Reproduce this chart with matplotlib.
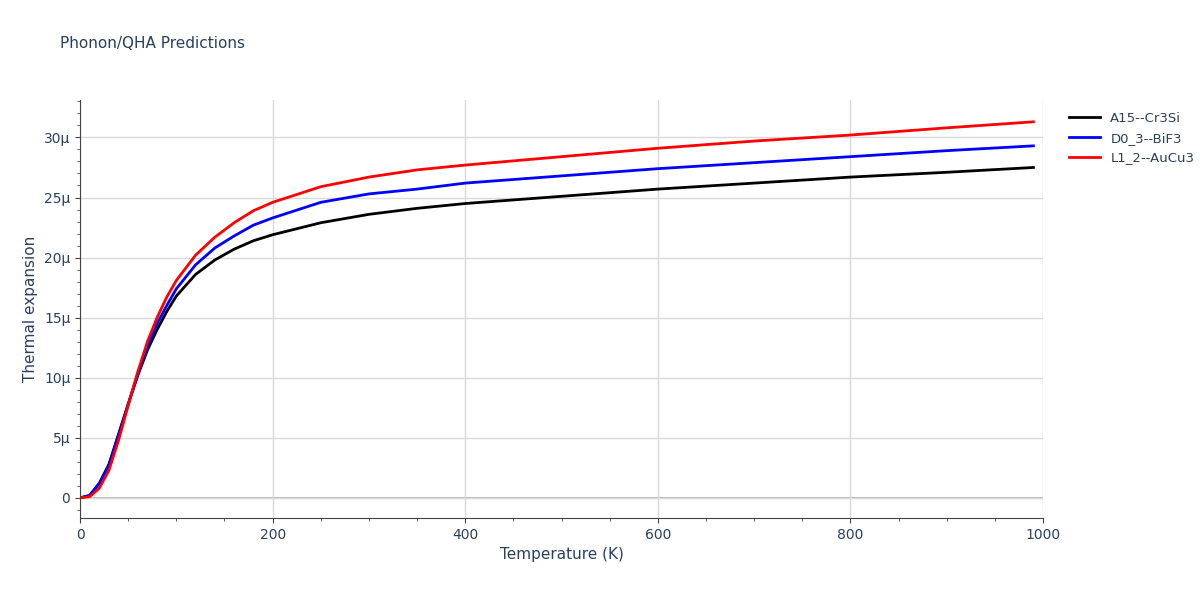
import numpy as np
import matplotlib.pyplot as plt
from matplotlib.ticker import FuncFormatter, MultipleLocator

temp = [0, 10, 20, 30, 40, 50, 60, 70, 80, 90, 100, 120, 140, 160, 180, 200,
        250, 300, 350, 400, 500, 600, 700, 800, 900, 990]
a15 = [0, 0.2, 1.2, 2.8, 5.3, 7.8, 10.2, 12.3, 14.0, 15.5, 16.8, 18.6, 19.8, 20.7,
       21.4, 21.9, 22.9, 23.6, 24.1, 24.5, 25.1, 25.7, 26.2, 26.7, 27.1, 27.5]
d03 = [0, 0.2, 1.2, 2.7, 5.2, 7.8, 10.3, 12.6, 14.5, 16.0, 17.4, 19.4, 20.8, 21.8,
       22.7, 23.3, 24.6, 25.3, 25.7, 26.2, 26.8, 27.4, 27.9, 28.4, 28.9, 29.3]
l12 = [0, 0.1, 0.8, 2.3, 4.8, 7.7, 10.5, 13.0, 15.0, 16.7, 18.1, 20.2, 21.7, 22.9,
       23.9, 24.6, 25.9, 26.7, 27.3, 27.7, 28.4, 29.1, 29.7, 30.2, 30.8, 31.3]
names = ['A15--Cr3Si', 'D0_3--BiF3', 'L1_2--AuCu3']
colors = ['black', 'blue', 'red']

fig = plt.figure(figsize=(12, 6), dpi=100)
ax = fig.add_axes([0.0667, 0.137, 0.8025, 0.696])
for y, n, c in zip([a15, d03, l12], names, colors):
    ax.plot(temp, y, color=c, lw=2, label=n)

ax.set_xlim(0, 1000)
ax.set_ylim(-1.66, 33.1)
ax.xaxis.set_major_locator(MultipleLocator(200))
ax.xaxis.set_minor_locator(MultipleLocator(50))
ax.yaxis.set_major_locator(MultipleLocator(5))
ax.yaxis.set_minor_locator(MultipleLocator(1))
ax.yaxis.set_major_formatter(FuncFormatter(lambda v, p: '0' if v == 0 else '%dμ' % v))
ax.grid(True, which='major', color='#d9d9d9', lw=1)
ax.axhline(0, color='#bbbbbb', lw=1.5, zorder=1)
for s in ['top', 'right']:
    ax.spines[s].set_visible(False)
ax.spines['left'].set_color('#444444')
ax.spines['bottom'].set_color('#444444')
ax.tick_params(colors='#444444', labelcolor='#2a3f5f', labelsize=10)
ax.tick_params(which='minor', colors='#444444')
ax.set_xlabel('Temperature (K)', color='#2a3f5f', fontsize=11)
ax.set_ylabel('Thermal expansion', color='#2a3f5f', fontsize=11)
fig.text(0.05, 0.92, 'Phonon/QHA Predictions', color='#2a3f5f', fontsize=11)
leg = ax.legend(loc='upper left', bbox_to_anchor=(1.015, 1.0), frameon=False,
                fontsize=9.5, handlelength=2.3)
for t in leg.get_texts():
    t.set_color('#2a3f5f')
fig.savefig('out.png')
